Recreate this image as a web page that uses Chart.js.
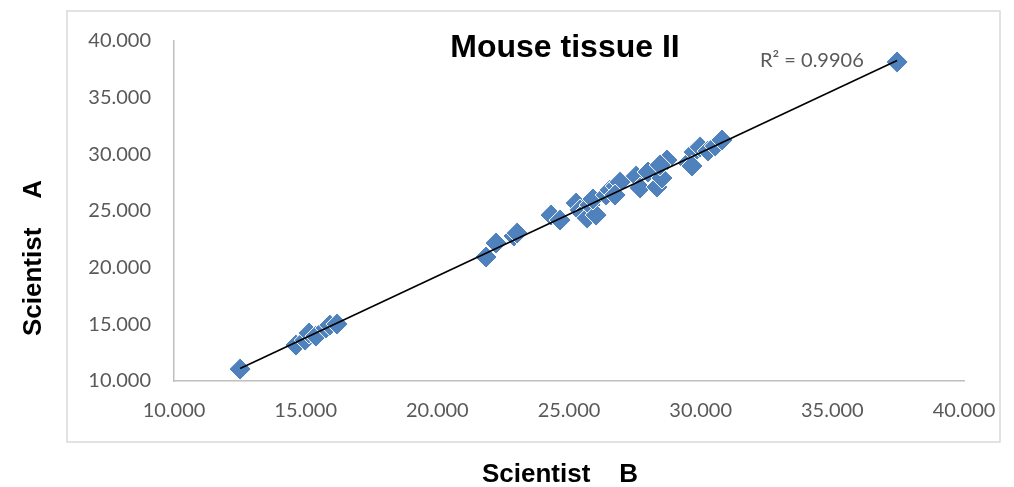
<!DOCTYPE html>
<html>
<head>
<meta charset="utf-8">
<script src="https://cdn.jsdelivr.net/npm/chart.js@4.4.1/dist/chart.umd.min.js"></script>
<style>
  html, body { margin: 0; padding: 0; background: #fff; }
  #wrap { position: relative; width: 1014px; height: 487px; }
</style>
</head>
<body>
<div id="wrap"><canvas id="chart"></canvas></div>
<script>
// Scientist B (x) and Scientist A (y) readings
var scientistB = [12.51, 14.63, 14.98, 15.13, 15.39, 15.77, 15.92, 16.19,
  21.85, 22.23, 22.91, 23.03,
  24.32, 24.66, 25.27, 25.42, 25.53, 25.69, 25.80, 26.03, 25.91, 26.41,
  26.56, 26.79, 26.94, 26.75, 27.55, 27.70, 28.00, 28.34, 28.53, 28.72,
  28.46, 29.52, 29.75, 29.98, 29.67, 30.28, 30.55, 30.81, 37.46];
var scientistA = [11.05, 13.17, 13.61, 14.23, 13.96, 14.67, 14.93, 15.02,
  20.94, 22.17, 22.79, 23.05,
  24.64, 24.20, 25.70, 25.08, 24.73, 24.38, 25.53, 24.64, 26.06, 26.41,
  26.85, 27.20, 27.55, 26.41, 28.08, 27.03, 28.44, 27.11, 27.91, 29.50,
  29.06, 29.23, 30.20, 30.64, 28.97, 30.29, 30.73, 31.26, 38.15];
var tickValues = [10, 15, 20, 25, 30, 35, 40];

var chartTitle = 'Mouse tissue II';
var xTitle = 'Scientist    B';
var yTitle = 'Scientist    A';
var rSquaredLabel = 'R\u00B2 = 0.9906';

// least squares trendline over the points
function trendPoints(xs, ys) {
  var n = xs.length, sx = 0, sy = 0, sxx = 0, sxy = 0;
  for (var i = 0; i < n; i++) {
    sx += xs[i]; sy += ys[i]; sxx += xs[i] * xs[i]; sxy += xs[i] * ys[i];
  }
  var slope = (n * sxy - sx * sy) / (n * sxx - sx * sx);
  var icpt = (sy - slope * sx) / n;
  var lo = Math.min.apply(null, xs), hi = Math.max.apply(null, xs);
  return [{ x: lo, y: icpt + slope * lo }, { x: hi, y: icpt + slope * hi }];
}

var points = scientistB.map(function (x, i) { return { x: x, y: scientistA[i] }; });

var decorations = {
  id: 'decorations',
  beforeDraw: function (chart) {
    var ctx = chart.ctx;
    ctx.save();
    ctx.fillStyle = '#fff';
    ctx.fillRect(0, 0, chart.width, chart.height);
    ctx.strokeStyle = '#d9d9d9';
    ctx.lineWidth = 1.5;
    ctx.strokeRect(67, 11, 933, 431);
    ctx.restore();
  },
  afterDraw: function (chart) {
    var ctx = chart.ctx;
    ctx.save();
    ctx.fillStyle = '#000';
    ctx.textAlign = 'center';
    ctx.textBaseline = 'alphabetic';
    ctx.font = 'bold 32px "Liberation Sans", Arial, sans-serif';
    ctx.fillText(chartTitle, 565, 57);

    ctx.font = 'bold 26px "Liberation Sans", Arial, sans-serif';
    ctx.fillText(xTitle, 560, 482);

    ctx.translate(41, 258);
    ctx.rotate(-Math.PI / 2);
    ctx.fillText(yTitle, 0, 0);
    ctx.restore();

    ctx.save();
    ctx.fillStyle = '#595959';
    ctx.textAlign = 'left';
    ctx.font = '20px Lato, sans-serif';
    ctx.fillText(rSquaredLabel, 760, 67);
    ctx.restore();
  }
};

var tickFont = { family: 'Lato, sans-serif', size: 20 };

new Chart(document.getElementById('chart'), {
  type: 'scatter',
  data: {
    datasets: [{
      type: 'line',
      label: 'Linear trend',
      data: trendPoints(scientistB, scientistA),
      borderColor: '#000',
      borderWidth: 1.6,
      pointRadius: 0,
      fill: false
    }, {
      label: 'Mouse tissue II',
      data: points,
      pointStyle: 'rectRot',
      pointRadius: 11,
      pointBackgroundColor: '#4f81bd',
      pointBorderColor: '#ffffff',
      pointBorderWidth: 1
    }]
  },
  options: {
    responsive: true,
    maintainAspectRatio: false,
    animation: false,
    layout: { padding: { left: 0, top: 41, right: 50, bottom: 0 } },
    plugins: {
      legend: { display: false },
      tooltip: { enabled: false }
    },
    scales: {
      x: {
        type: 'linear',
        min: 10,
        max: 40,
        afterBuildTicks: function (s) { s.ticks = tickValues.map(function (v) { return { value: v }; }); },
        afterFit: function (s) { s.height = 106; },
        grid: { display: false, drawTicks: false },
        border: { display: true, color: '#bfbfbf', width: 1.5 },
        ticks: {
          padding: 18,
          color: '#595959',
          font: tickFont,
          callback: function (v) { return v.toFixed(3); }
        }
      },
      y: {
        type: 'linear',
        min: 10,
        max: 40,
        afterBuildTicks: function (s) { s.ticks = tickValues.map(function (v) { return { value: v }; }); },
        afterFit: function (s) { s.width = 174; },
        grid: { display: false, drawTicks: false },
        border: { display: true, color: '#bfbfbf', width: 1.5 },
        ticks: {
          padding: 23,
          color: '#595959',
          font: tickFont,
          callback: function (v) { return v.toFixed(3); }
        }
      }
    }
  },
  plugins: [decorations]
});
</script>
</body>
</html>
